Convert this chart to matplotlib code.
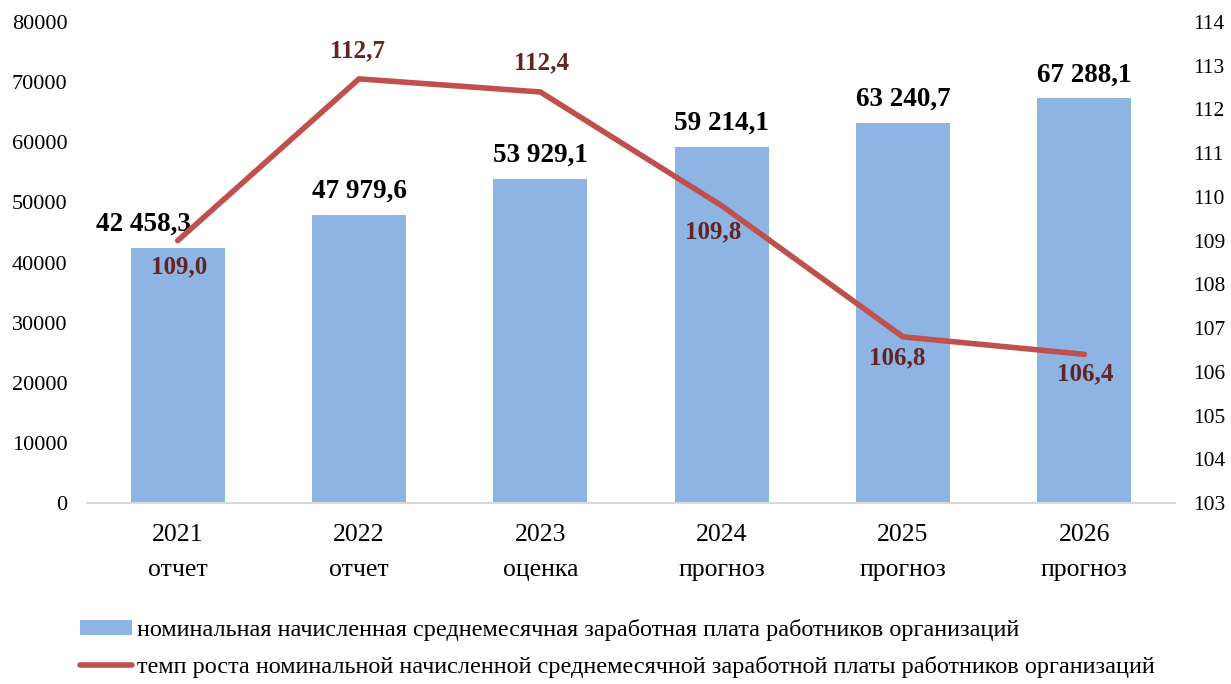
import matplotlib
matplotlib.use("Agg")
import matplotlib.pyplot as plt

plt.rcParams['font.family'] = ['Liberation Serif', 'DejaVu Serif']

years = ["2021\nотчет", "2022\nотчет", "2023\nоценка", "2024\nпрогноз", "2025\nпрогноз", "2026\nпрогноз"]
wage = [42458.3, 47979.6, 53929.1, 59214.1, 63240.7, 67288.1]
wage_labels = ["42 458,3", "47 979,6", "53 929,1", "59 214,1", "63 240,7", "67 288,1"]
growth = [109.0, 112.7, 112.4, 109.8, 106.8, 106.4]
growth_labels = ["109,0", "112,7", "112,4", "109,8", "106,8", "106,4"]

bar_name = "номинальная начисленная среднемесячная заработная плата работников организаций"
line_name = "темп роста номинальной начисленной среднемесячной заработной платы работников организаций"

bar_color = "#8EB4E3"
line_color = "#C0504D"
lbl_color = "#632523"

fig = plt.figure(figsize=(12.31, 6.84), dpi=100)
ax = fig.add_axes([0.0707, 0.2646, 0.8838, 0.7032])
x = list(range(len(years)))

bars = ax.bar(x, wage, width=0.52, color=bar_color, zorder=2, label=bar_name)
ax.set_ylim(0, 80000)
ax.set_xlim(-0.5, len(years) - 0.5)
ax.set_yticks(range(0, 80001, 10000))
ax.set_xticks(x)
ax.set_xticklabels(years, fontsize=18.5, linespacing=1.75)
ax.tick_params(axis='y', length=0, labelsize=16, pad=14)
ax.tick_params(axis='x', length=0, pad=15)
for s in ['top', 'left', 'right']:
    ax.spines[s].set_visible(False)
ax.spines['bottom'].set_color('#D9D9D9')
ax.spines['bottom'].set_linewidth(1.5)

# bar value labels (first one shifted left to clear the line)
shifts = [-25, 0, 0, 0, 0, 0]
for i, (v, t) in enumerate(zip(wage, wage_labels)):
    ax.annotate(t, (i, v), xytext=(shifts[i], 17), textcoords='offset points',
                ha='center', va='center', fontsize=19.5, fontweight='bold', color='black')

ax2 = ax.twinx()
ax2.set_ylim(103, 114)
ax2.set_yticks(range(103, 115))
ax2.tick_params(axis='y', length=0, labelsize=15.5, pad=13)
for s in ['top', 'left', 'right', 'bottom']:
    ax2.spines[s].set_visible(False)
line, = ax2.plot(x, growth, color=line_color, linewidth=4, solid_capstyle='round', zorder=3, label=line_name)

offsets = [(1, -19), (-1, 20), (1, 21), (-6, -19), (-4, -15), (1, -14)]
for i, (v, t) in enumerate(zip(growth, growth_labels)):
    ax2.annotate(t, (i, v), xytext=offsets[i], textcoords='offset points',
                 ha='center', va='center', fontsize=18, fontweight='bold', color=lbl_color)

fig.legend([bars, line], [bar_name, line_name], loc='upper left',
           bbox_to_anchor=(0.065, 0.095), bbox_transform=fig.transFigure,
           frameon=False, fontsize=17.5, handlelength=2.15, handleheight=0.55,
           handletextpad=0.2, labelspacing=0.62, borderaxespad=0, borderpad=0)

fig.savefig("out.png", dpi=100)
